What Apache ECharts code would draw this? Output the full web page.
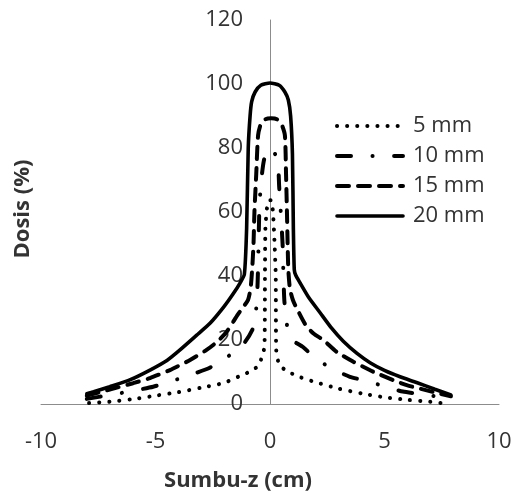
<!DOCTYPE html>
<html>
<head>
<meta charset="utf-8">
<script src="https://cdn.jsdelivr.net/npm/echarts@6/dist/echarts.min.js"></script>
<style>
  html, body { margin: 0; padding: 0; background: #fff; }
  #chart { width: 513px; height: 496px; }
</style>
</head>
<body>
<div id="chart"></div>
<script>
// Depth-dose profiles along the z axis for four field sizes
const seriesNames = ['5 mm', '10 mm', '15 mm', '20 mm'];

const x5 = [-7.9, -7, -6, -5, -4, -3, -2, -1.3, -0.85, -0.5, -0.35, -0.24, -0.22, -0.2, -0.12, -0.03,
            0.05, 0.13, 0.2, 0.25, 0.27, 0.35, 0.5, 0.9, 1.35, 2, 3, 4, 5, 6, 7, 7.55];
const y5 = [0.3, 0.7, 1.5, 2.6, 3.7, 5.1, 6.6, 8.8, 10.2, 12, 14.8, 18, 40, 55, 62, 63.7,
            63.7, 60, 50, 40, 17, 13.5, 11.5, 9.7, 8.3, 6.8, 4.8, 3.3, 2.1, 1.3, 0.7, 0.2];

const x10 = [-8, -7, -6, -5.1, -4.5, -3.93, -3.2, -2.7, -2.2, -1.75, -1.4, -1.09, -0.74, -0.6, -0.54, -0.5,
             -0.46, -0.38, -0.27, -0.1, 0.05, 0.2, 0.35, 0.4, 0.47, 0.55, 0.58, 0.63, 0.8, 1.0, 1.44, 1.97,
             2.69, 3.49, 4.23, 5.02, 5.8, 6.7, 7.6];
const y10 = [1.6, 2.8, 4.1, 5.4, 6.7, 8, 9.8, 11.1, 13, 15.3, 17.3, 19.4, 23.7, 30, 38, 50,
             62, 70, 76, 79.5, 80, 78.5, 75, 68, 60, 50, 42, 32, 22, 19.8, 17.8, 14.4,
             11.1, 8.5, 7.2, 5.4, 3.9, 3.0, 2.0];

const x15 = [-8, -7, -5.98, -5.24, -4.37, -3.49, -2.77, -2.3, -1.9, -1.4, -1.15, -0.96, -0.85, -0.78, -0.72, -0.68,
             -0.6, -0.52, -0.4, -0.2, 0.05, 0.3, 0.5, 0.65, 0.7, 0.74, 0.77, 0.8, 0.87, 1.0, 1.16, 1.53,
             1.9, 2.33, 2.91, 3.64, 4.5, 5.37, 5.97, 7.1, 7.9];
const y15 = [2.6, 4.5, 6.5, 8.1, 10.6, 13.75, 16.9, 19.5, 22.5, 28, 30.5, 32.5, 36, 42, 50, 60,
             72, 84, 87.5, 89, 89.3, 89, 87.5, 84, 72, 60, 50, 42, 36, 32.5, 30, 25,
             22, 20, 16.3, 13.2, 10.1, 7.5, 5.9, 3.8, 2.4];

const x20 = [-8, -7.7, -7, -6.1, -5.24, -4.5, -3.93, -3.2, -2.62, -2, -1.6, -1.31, -1.12, -1.02, -0.95, -0.87,
             -0.8, -0.65, -0.4, 0, 0.4, 0.65, 0.8, 0.9, 0.98, 1.02, 1.06, 1.12, 1.31, 1.7, 2.18, 2.7,
             3.2, 3.8, 4.37, 5, 5.68, 6.4, 7.2, 7.9];
const y20 = [3.2, 3.8, 5.4, 7.6, 10.6, 13.6, 16.9, 21.5, 25.2, 30.5, 34.5, 37.8, 40.5, 55, 80, 90,
             94.5, 97.5, 99.6, 100.3, 99.6, 97.5, 95, 90, 78, 55, 42, 40.3, 37.9, 33.2, 28.6, 23.6,
             19.6, 15.8, 12.9, 10.5, 8.5, 6.7, 4.6, 2.8];

const xTicks = [-10, -5, 0, 5, 10];
const yTicks = [0, 20, 40, 60, 80, 100, 120];

const FONT = 'Open Sans';
const TEXT = '#333333';
const AXIS = '#8c8c8c';

// plot rectangle
const GRID_LEFT = 41, GRID_RIGHT = 14, GRID_TOP = 20, GRID_BOTTOM = 92;
const PLOT_W = 513 - GRID_LEFT - GRID_RIGHT;
// shift the value axis inward so it stands on x = 0
const Y_AXIS_SHIFT = -PLOT_W * (0 - xTicks[0]) / (xTicks[xTicks.length - 1] - xTicks[0]);

function pairs(xs, ys) { return xs.map((v, i) => [v, ys[i]]); }

const lineStyles = [
  { width: 4, type: [0.1, 10], cap: 'round' },
  { width: 4, type: [14, 21.5, 0.1, 21.5], cap: 'round' },
  { width: 4, type: [12, 9], cap: 'round' },
  { width: 3.6, type: 'solid', cap: 'round' }
];
const dataSets = [pairs(x5, y5), pairs(x10, y10), pairs(x15, y15), pairs(x20, y20)];

const chart = echarts.init(document.getElementById('chart'), null, { renderer: 'canvas' });

chart.setOption({
  animation: false,
  backgroundColor: '#ffffff',
  grid: {
    left: GRID_LEFT, right: GRID_RIGHT, top: GRID_TOP, bottom: GRID_BOTTOM,
    containLabel: false, outerBoundsMode: 'none'
  },
  xAxis: {
    type: 'value',
    min: xTicks[0], max: xTicks[xTicks.length - 1], interval: 5,
    axisLine: { show: true, onZero: true, lineStyle: { color: AXIS, width: 1 } },
    axisTick: { show: false },
    splitLine: { show: false },
    axisLabel: { fontFamily: FONT, fontSize: 22, color: TEXT, margin: 27 }
  },
  yAxis: {
    type: 'value',
    position: 'left',
    offset: Y_AXIS_SHIFT,
    min: yTicks[0], max: yTicks[yTicks.length - 1], interval: 20,
    axisLine: { show: true, onZero: false, lineStyle: { color: AXIS, width: 1 } },
    axisTick: { show: false },
    splitLine: { show: false },
    axisLabel: { fontFamily: FONT, fontSize: 22, color: TEXT, margin: 27 }
  },
  legend: {
    orient: 'vertical',
    left: 335, top: 115,
    padding: 0,
    itemWidth: 66, itemHeight: 20, itemGap: 8,
    itemStyle: { opacity: 0 },
    textStyle: { fontFamily: FONT, fontSize: 22, lineHeight: 20, color: TEXT, padding: [0, 0, 0, 5] },
    data: seriesNames.map((name, i) => ({ name: name, lineStyle: Object.assign({ color: '#000000' }, lineStyles[i]) }))
  },
  series: seriesNames.map((name, i) => ({
    name: name,
    type: 'line',
    data: dataSets[i],
    symbol: 'none',
    showSymbol: false,
    smooth: 0.2,
    color: '#000000',
    lineStyle: Object.assign({ color: '#000000' }, lineStyles[i]),
    z: 3
  })),
  graphic: [
    {
      type: 'text', x: 238, y: 481,
      style: { text: 'Sumbu-z (cm)', font: 'bold 22px "' + FONT + '"', fill: TEXT, align: 'center', verticalAlign: 'middle' }
    },
    {
      type: 'text', x: 23, y: 209, rotation: Math.PI / 2,
      style: { text: 'Dosis (%)', font: 'bold 22px "' + FONT + '"', fill: TEXT, align: 'center', verticalAlign: 'middle' }
    }
  ]
});
</script>
</body>
</html>
